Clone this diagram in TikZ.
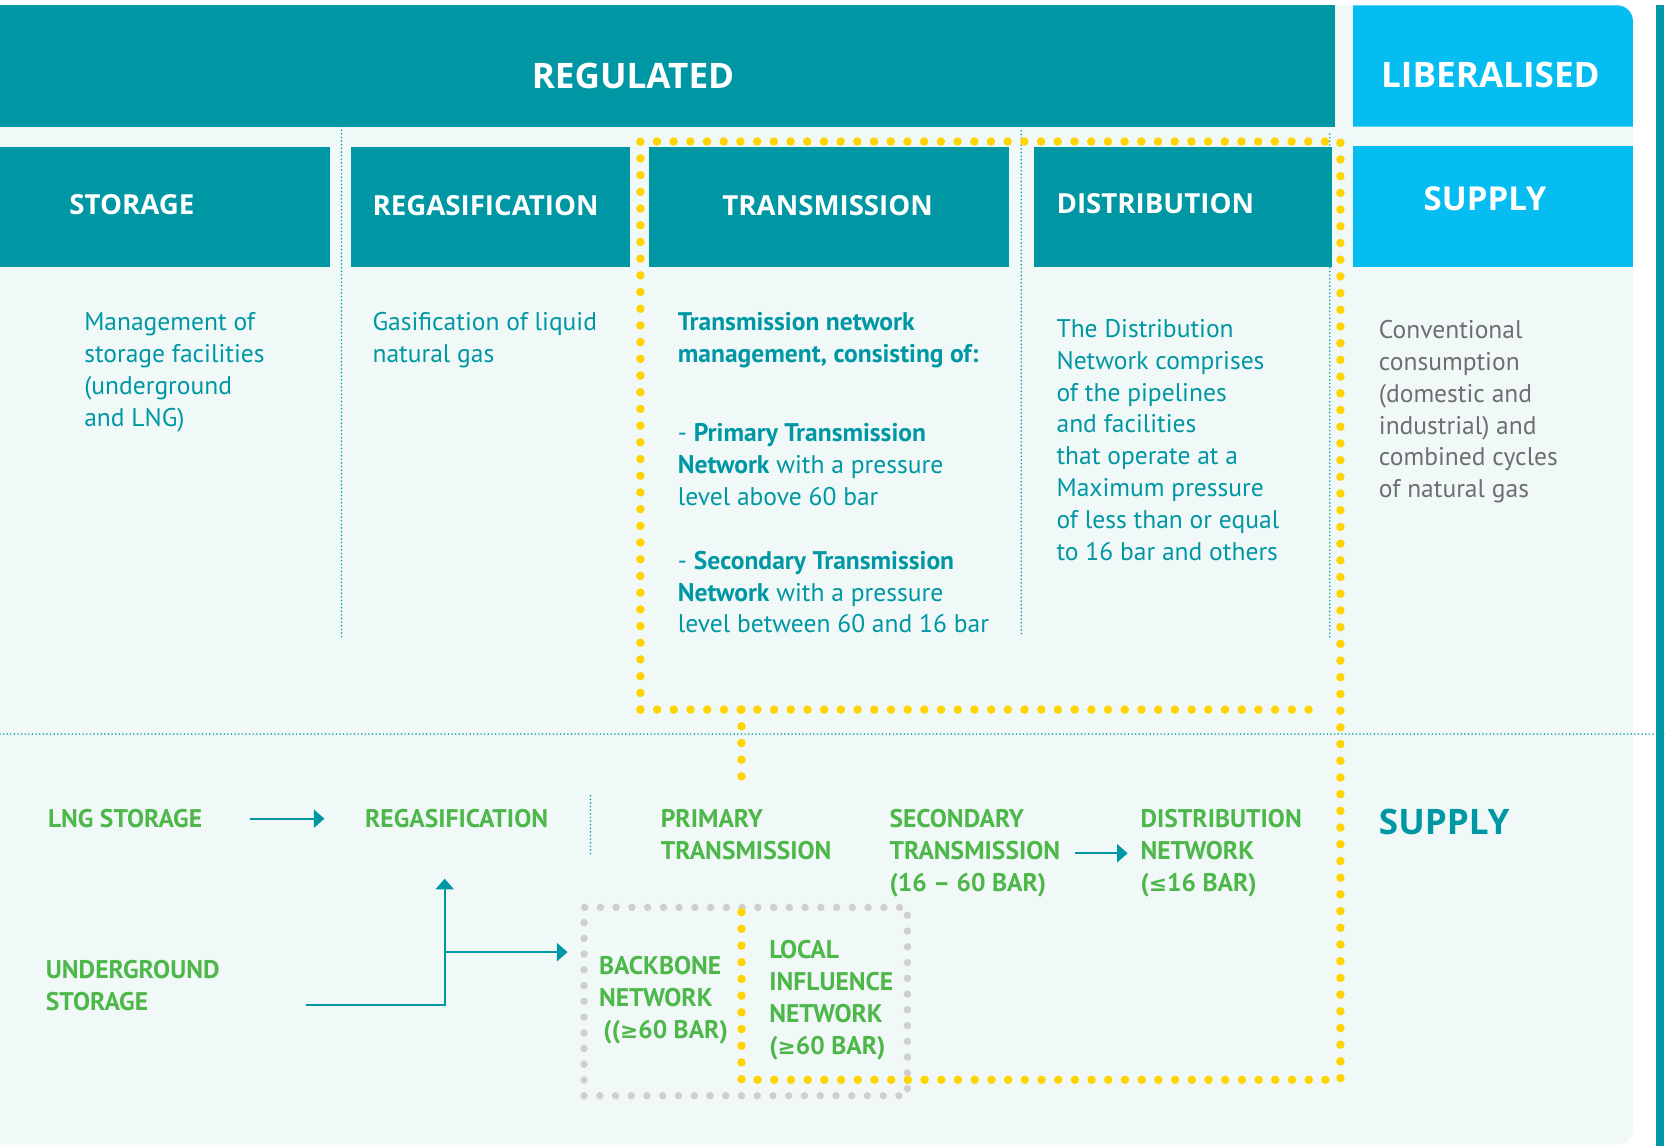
\documentclass[tikz,border=0pt]{standalone}
\usepackage{fontspec}
\setmainfont{PT Sans}
\newfontfamily\headfont{Open Sans}
\newfontfamily\symfont[Scale=0.85]{DejaVu Sans}
\usetikzlibrary{arrows.meta,positioning}

\definecolor{gasteal}{HTML}{0097A4}
\definecolor{gascyan}{HTML}{05BDF1}
\definecolor{paleback}{HTML}{F1F9F8}
\definecolor{gasgreen}{HTML}{4DB749}
\definecolor{gasyellow}{HTML}{FFD400}
\definecolor{dotgray}{HTML}{CFCFCF}
\definecolor{textgray}{HTML}{6D6E71}

\newcommand{\atleast}{{\symfont ≥}}
\newcommand{\atmost}{{\symfont ≤}}

\tikzset{
    hdrtxt/.style={text=white, font=\headfont\bfseries\fontsize{26}{26}\selectfont, inner sep=0},
    toptxt/.style={text=white, font=\headfont\bfseries\fontsize{33}{33}\selectfont, inner sep=0},
    bodytxt/.style={text=gasteal, font=\fontsize{24}{30}\selectfont, align=left, anchor=base west, inner sep=0},
    bodybold/.style={bodytxt, font=\bfseries\fontsize{24}{30}\selectfont},
    flowtxt/.style={text=gasgreen, font=\bfseries\fontsize{24}{30}\selectfont, align=left, anchor=base west, inner sep=0},
    sepline/.style={gasteal, line width=1.6pt, line cap=round, dash pattern=on 0pt off 3.4pt},
    yellowdots/.style={gasyellow, line width=8pt, line cap=round, dash pattern=on 0pt off 15.7pt},
    graydots/.style={dotgray, line width=7pt, line cap=round, dash pattern=on 0pt off 14.8pt},
    flow/.style={gasteal, line width=2pt, -{Triangle[length=10pt,width=17pt]}},
}

\begin{document}
\begin{tikzpicture}[x=1pt,y=-1pt]
    \useasboundingbox (0,0) rectangle (1567,1077);
    % Background
    \fill[paleback, rounded corners=13pt] (-20,5) rectangle (1535,1076);
    \fill[gasteal] (1557,5) rectangle (1564,1077);

    % Top bar
    \fill[gasteal] (0,5) rectangle (1255,119);
    \fill[gascyan] (1272,119) -- (1272,5) -- (1520,5) arc[start angle=-90, end angle=0, radius=15] -- (1535,119) -- cycle;
    \node[toptxt] (regulated) at (595,71) {REGULATED};
    \node[toptxt] (liberalised) at (1401,70) {LIBERALISED};

    % Column headers
    \foreach \xa/\xb in {0/310, 330/592, 610/948, 972/1252} {
        \fill[gasteal] (\xa,138) rectangle (\xb,251);
    }
    \fill[gascyan] (1272,137) rectangle (1535,251);
    \foreach \name/\txt/\x/\y in {storH/STORAGE/65/192, regasH/REGASIFICATION/350/193, distH/DISTRIBUTION/993/191} {
        \node[hdrtxt, anchor=west] (\name) at (\x,\y) {\txt};
    }
    \node[hdrtxt] (transH) at (778,193) {TRANSMISSION};
    \node[toptxt, font=\headfont\bfseries\fontsize{31}{31}\selectfont] (supplyH) at (1396,187) {SUPPLY};

    % Separators
    \foreach \x/\ya/\yb in {321/119/600, 960/123/598, 1250/126/600} {
        \draw[sepline] (\x,\ya) -- (\x,\yb);
    }
    \draw[sepline] (0,690) -- (1567,690);
    \draw[sepline] (555,748) -- (555,805);

    % Network boundaries
    \node[graydots, draw, minimum width=304pt, minimum height=177pt, inner sep=0] (tsnet) at (701,941.5) {};
    \draw[yellowdots] (602,667) -- (602,133) -- (1260,133) -- (1260,1015) -- (697,1015) -- (697,855);
    \draw[yellowdots] (602,667) -- (1245,667);
    \draw[yellowdots] (697,667) -- (697,730);

    % Descriptions (placed by the baseline of their last line)
    \node[bodytxt] (storD) at (79,401) {Management of\\storage facilities\\(underground\\and LNG)};
    \node[bodytxt] (regasD) at (350,341) {Gasification of liquid\\natural gas};
    \node[bodybold] (transD) at (637,341) {Transmission network\\management, consisting of:};
    \node[bodytxt] (primD) at (637,475) {- \textbf{Primary Transmission}\\\textbf{Network} with a pressure\\level above 60 bar};
    \node[bodytxt] (secD) at (637,595) {- \textbf{Secondary Transmission}\\\textbf{Network} with a pressure\\level between 60 and 16 bar};
    \node[bodytxt] (distD) at (993,527) {The Distribution\\Network comprises\\of the pipelines\\and facilities\\that operate at a\\Maximum pressure\\of less than or equal\\to 16 bar and others};
    \node[bodytxt, text=textgray] (supplyD) at (1296,468) {Conventional\\consumption\\(domestic and\\industrial) and\\combined cycles\\of natural gas};

    % Gas flow
    \node[flowtxt] (lng) at (45,778) {LNG STORAGE};
    \node[flowtxt] (regasL) at (343,778) {REGASIFICATION};
    \node[flowtxt] (primL) at (621,808) {PRIMARY\\TRANSMISSION};
    \node[flowtxt] (secL) at (836,838) {SECONDARY\\TRANSMISSION\\(16 – 60 BAR)};
    \node[flowtxt] (distL) at (1072,838) {DISTRIBUTION\\NETWORK\\(\atmost16 BAR)};
    \node[flowtxt, text=gasteal, font=\headfont\bfseries\fontsize{33}{33}\selectfont] (supplyL) at (1296,784) {SUPPLY};
    \node[flowtxt] (ugs) at (43,950) {UNDERGROUND\\STORAGE};
    \node[flowtxt] (backbone) at (563,976) {BACKBONE\\NETWORK\\\hspace{4pt}((\atleast60 BAR)};
    \node[flowtxt] (localnet) at (723,991) {LOCAL\\INFLUENCE\\NETWORK\\(\atleast60 BAR)};

    % Arrows
    \coordinate (ugsout) at (288,945);
    \coordinate (fork) at (418,895);
    \coordinate (regasin) at (418,826);
    \draw[flow, shorten <=45pt, shorten >=38pt] (lng) -- (regasL);
    \draw[flow, shorten <=14pt, shorten >=12pt] (secL.east) -- (distL.west |- secL.east);
    \draw[flow] (ugsout) -| (regasin);
    \draw[flow, shorten >=12pt] (fork) -- (fork -| tsnet.west);
\end{tikzpicture}
\end{document}
